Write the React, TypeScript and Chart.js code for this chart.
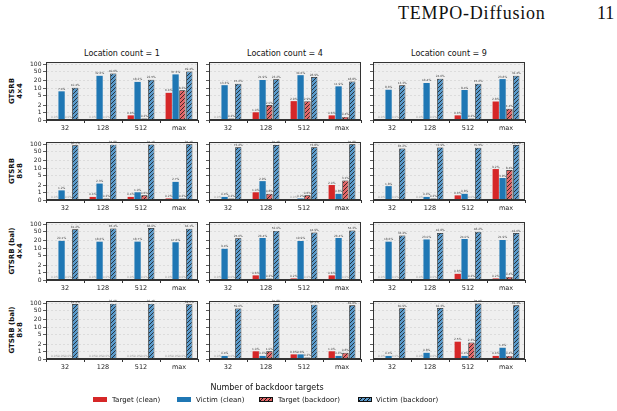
import React, { useEffect, useRef } from 'react';
import { Chart, registerables } from 'chart.js';
Chart.register(...registerables);

// ---------- data ----------
const categories = ['32', '128', '512', 'max'];
const colTitles = ['Location count = 1', 'Location count = 4', 'Location count = 9'];
const rowLabels = [['GTSRB', '4×4'], ['GTSRB', '8×8'], ['GTSRB (bal)', '4×4'], ['GTSRB (bal)', '8×8']];
const seriesNames = ['Target (clean)', 'Victim (clean)', 'Target (backdoor)', 'Victim (backdoor)'];
const yTickValues = [0, 1, 2, 5, 10, 20, 50, 100];

// each: [loc=1, loc=4, loc=9] x [32, 128, 512, max]
const targetClean_gtsrb4 = [[0, 0, 0.6, 6.4], [0, 1.0, 2.9, 0.6], [0, 0, 0.6, 2.8]];
const victimClean_gtsrb4 = [[7.4, 32.6, 18.2, 37.3], [13.3, 21.9, 34.6, 11.9], [8.6, 16.4, 8.4, 23.8]];
const targetBackdoor_gtsrb4 = [[0, 0, 0.2, 8.2], [0.2, 2.0, 2.9, 0.4], [0, 0, 0.2, 1.4]];
const victimBackdoor_gtsrb4 = [[10.4, 40.6, 22.5, 49.4], [15.2, 23.2, 28.9, 18.8], [13.3, 24.6, 15.2, 32.4]];

const targetClean_gtsrb8 = [[0, 0.4, 0.4, 0.2], [0, 1.0, 0, 2.0], [0, 0, 0.6, 9.2]];
const victimClean_gtsrb8 = [[1.2, 2.3, 1.0, 2.7], [0.4, 2.9, 0.2, 0.8], [1.8, 0.4, 0.8, 3.9]];
const targetBackdoor_gtsrb8 = [[0, 0.2, 0.6, 0.2], [0.2, 0.8, 0.6, 3.1], [0, 0.2, 0, 8.4]];
const victimBackdoor_gtsrb8 = [[88.5, 94.8, 97.1, 97.7], [73.2, 91.7, 73.8, 97.8], [65.2, 72.9, 70.5, 91.4]];

const targetClean_bal4 = [[0, 0, 0, 0], [0, 0.6, 0.2, 0.6], [0, 0, 0.8, 0.2]];
const victimClean_bal4 = [[20.1, 18.6, 18.7, 17.6], [9.4, 26.4, 19.9, 26.4], [18.6, 23.0, 24.0, 21.9]];
const targetBackdoor_bal4 = [[0, 0, 0, 0], [0, 0.2, 0, 0], [0, 0, 0.2, 0.4]];
const victimBackdoor_bal4 = [[61.2, 65.4, 68.0, 64.1], [25.6, 52.0, 44.9, 54.3], [33.4, 42.8, 48.2, 42.6]];

const targetClean_bal8 = [[0, 0, 0, 0], [0, 1.0, 0.6, 1.0], [0, 0, 2.5, 0.4]];
const victimClean_bal8 = [[0, 0, 0, 0], [0.4, 0.4, 0.6, 0.4], [0.4, 0.8, 0.4, 1.4]];
const targetBackdoor_bal8 = [[0, 0, 0, 0], [0, 1.0, 0.2, 0.8], [0, 0, 2.3, 0.4]];
const victimBackdoor_bal8 = [[91.4, 92.6, 92.4, 89.6], [59.6, 91.8, 86.1, 81.8], [60.9, 62.3, 95.5, 81.4]];

const rowsData = [
  [targetClean_gtsrb4, victimClean_gtsrb4, targetBackdoor_gtsrb4, victimBackdoor_gtsrb4],
  [targetClean_gtsrb8, victimClean_gtsrb8, targetBackdoor_gtsrb8, victimBackdoor_gtsrb8],
  [targetClean_bal4, victimClean_bal4, targetBackdoor_bal4, victimBackdoor_bal4],
  [targetClean_bal8, victimClean_bal8, targetBackdoor_bal8, victimBackdoor_bal8],
];

// ---------- layout / style ----------
const FONT = 'DejaVu Sans';
const RED = '#d62728';
const BLUE = '#1f77b4';
const RED_H = '#e26768';
const BLUE_H = '#5b9bcc';
const PLOT_LEFTS = [46, 209, 373];
const PLOT_TOPS = [62, 142, 222, 301];
const PW = 152;
const PH = 58;
const AX_L = 26;
const AX_B = 16;
const PAD_T = 7;
const PAD_R = 3;

// symlog-like transform
const LIN = 0.32;
const tf = (v: number) => (v <= 1 ? v * LIN : LIN + Math.log10(v));
const YMAX = 2.406;

function makeHatch(color: string): CanvasPattern | string {
  const c = document.createElement('canvas');
  c.width = 4;
  c.height = 4;
  const g = c.getContext('2d');
  if (!g) return color;
  g.fillStyle = color;
  g.fillRect(0, 0, 4, 4);
  g.strokeStyle = '#111';
  g.lineWidth = 0.75;
  g.beginPath();
  g.moveTo(0, 4); g.lineTo(4, 0);
  g.moveTo(-1, 1); g.lineTo(1, -1);
  g.moveTo(3, 5); g.lineTo(5, 3);
  g.stroke();
  return g.createPattern(c, 'repeat') || color;
}

function Panel({ row, col }: { row: number; col: number }) {
  const ref = useRef<HTMLCanvasElement>(null);
  const W = AX_L + PW + PAD_R;
  const H = PAD_T + PH + AX_B;
  useEffect(() => {
    if (!ref.current) return;
    const series = rowsData[row].map((s) => s[col]);
    const fills = [RED, BLUE, makeHatch(RED_H), makeHatch(BLUE_H)];
    const bgPlugin = {
      id: 'bgframe',
      beforeDraw(chart: any) {
        const { ctx, chartArea: a } = chart;
        ctx.save();
        ctx.fillStyle = '#efefef';
        ctx.fillRect(a.left, a.top, a.right - a.left, a.bottom - a.top);
        ctx.restore();
      },
      afterDraw(chart: any) {
        const { ctx, chartArea: a } = chart;
        ctx.save();
        ctx.strokeStyle = '#333';
        ctx.lineWidth = 1;
        ctx.strokeRect(Math.round(a.left) + 0.5, Math.round(a.top) + 0.5, Math.round(a.right - a.left) - 1, Math.round(a.bottom - a.top) - 1);
        ctx.restore();
      },
    };
    const labelPlugin = {
      id: 'vallabels',
      afterDatasetsDraw(chart: any) {
        const ctx = chart.ctx;
        ctx.save();
        ctx.font = `2.9px "${FONT}"`;
        ctx.textAlign = 'center';
        ctx.textBaseline = 'bottom';
        series.forEach((vals, i) => {
          const meta = chart.getDatasetMeta(i);
          meta.data.forEach((el: any, j: number) => {
            const v = vals[j];
            ctx.fillStyle = v === 0 ? '#999' : '#444';
            ctx.fillText(v.toFixed(1) + '%', el.x, el.y - 0.8);
          });
        });
        ctx.restore();
      },
    };
    const chart = new Chart(ref.current, {
      type: 'bar',
      data: {
        labels: categories,
        datasets: series.map((vals, i) => ({
          label: seriesNames[i],
          data: vals.map(tf),
          backgroundColor: fills[i] as any,
          borderColor: '#111',
          borderWidth: i >= 2 ? 0.7 : 0,
          categoryPercentage: 0.72,
          barPercentage: 0.92,
        })),
      },
      options: {
        responsive: false,
        animation: false,
        maintainAspectRatio: false,
        layout: { padding: { top: PAD_T, right: PAD_R, left: 0, bottom: 0 } },
        plugins: { legend: { display: false }, tooltip: { enabled: false } },
        scales: {
          x: {
            grid: { display: true, drawOnChartArea: false, drawTicks: true, tickLength: 3, tickColor: '#333', color: '#333' },
            border: { display: true, color: '#333', width: 1 },
            ticks: { font: { size: 6.5, family: FONT }, color: '#222', padding: 1, maxRotation: 0, autoSkip: false },
            afterFit: (s: any) => { s.height = AX_B; },
          },
          y: {
            min: 0,
            max: YMAX,
            afterBuildTicks: (s: any) => { s.ticks = yTickValues.map((v) => ({ value: tf(v) })); },
            ticks: {
              display: col === 0,
              autoSkip: false,
              font: { size: 6, family: FONT },
              color: '#222',
              padding: 1.5,
              callback: (_v: any, idx: number) => String(yTickValues[idx]),
            },
            grid: {
              color: (c: any) => (c.index === 0 ? 'rgba(0,0,0,0)' : '#cfcfcf'),
              lineWidth: 0.6,
              drawTicks: true,
              tickLength: 3,
              tickColor: '#333',
              tickWidth: 0.8,
            },
            border: { display: true, color: '#333', width: 1, dash: [2, 2] },
            afterFit: (s: any) => { s.width = AX_L; },
          },
        },
      } as any,
      plugins: [bgPlugin, labelPlugin],
    });
    return () => chart.destroy();
  }, [row, col]);
  return (
    <canvas
      ref={ref}
      width={W}
      height={H}
      style={{ position: 'absolute', left: PLOT_LEFTS[col] - AX_L, top: PLOT_TOPS[row] - PAD_T, width: W, height: H }}
    />
  );
}

const abs = (o: any) => ({ position: 'absolute' as const, whiteSpace: 'nowrap' as const, ...o });

export default function App() {
  const legendItems = [
    { sw: 93, tx: 112, bg: RED },
    { sw: 177, tx: 196, bg: BLUE },
    { sw: 259, tx: 278, bg: `repeating-linear-gradient(135deg, ${RED_H} 0px, ${RED_H} 2px, #111 2px, #111 2.8px)`, border: true },
    { sw: 358, tx: 376, bg: `repeating-linear-gradient(135deg, ${BLUE_H} 0px, ${BLUE_H} 2px, #111 2px, #111 2.8px)`, border: true },
  ];
  return (
    <div style={{ position: 'fixed', left: 0, top: 0, width: 617, height: 411, background: '#fff', overflow: 'hidden', fontFamily: FONT, color: '#111' }}>
      <div style={abs({ left: 398, top: 2, fontFamily: '"Liberation Serif", serif', fontSize: 18, letterSpacing: 0.8, lineHeight: '22px' })}>TEMPO-Diffusion</div>
      <div style={abs({ left: 597, top: 2, fontFamily: '"Liberation Serif", serif', fontSize: 18, lineHeight: '22px' })}>11</div>

      {colTitles.map((t, c) => (
        <div key={t} style={abs({ left: PLOT_LEFTS[c] + PW / 2, top: 53.5, transform: 'translate(-50%, -50%)', fontSize: 8, lineHeight: '10px' })}>{t}</div>
      ))}

      {rowLabels.map((lab, r) => (
        <React.Fragment key={r}>
          {lab.map((line, k) => (
            <div
              key={k}
              style={abs({
                left: 12 + k * 8,
                top: PLOT_TOPS[r] + PH / 2,
                transform: 'translate(-50%, -50%) rotate(-90deg)',
                fontSize: 7,
                fontWeight: 'bold',
                lineHeight: '8px',
              })}
            >
              {line}
            </div>
          ))}
        </React.Fragment>
      ))}

      {PLOT_TOPS.map((_, r) => PLOT_LEFTS.map((__, c) => <Panel key={`${r}-${c}`} row={r} col={c} />))}

      <div style={abs({ left: 267, top: 388, transform: 'translate(-50%, -50%)', fontSize: 8, lineHeight: '10px' })}>Number of backdoor targets</div>

      {legendItems.map((it, i) => (
        <React.Fragment key={i}>
          <div style={abs({ left: it.sw, top: 397, width: 14, height: 5, background: it.bg, boxSizing: 'border-box', border: it.border ? '0.7px solid #111' : 'none' })} />
          <div style={abs({ left: it.tx, top: 400, transform: 'translateY(-50%)', fontSize: 7, lineHeight: '9px' })}>{seriesNames[i]}</div>
        </React.Fragment>
      ))}
    </div>
  );
}
